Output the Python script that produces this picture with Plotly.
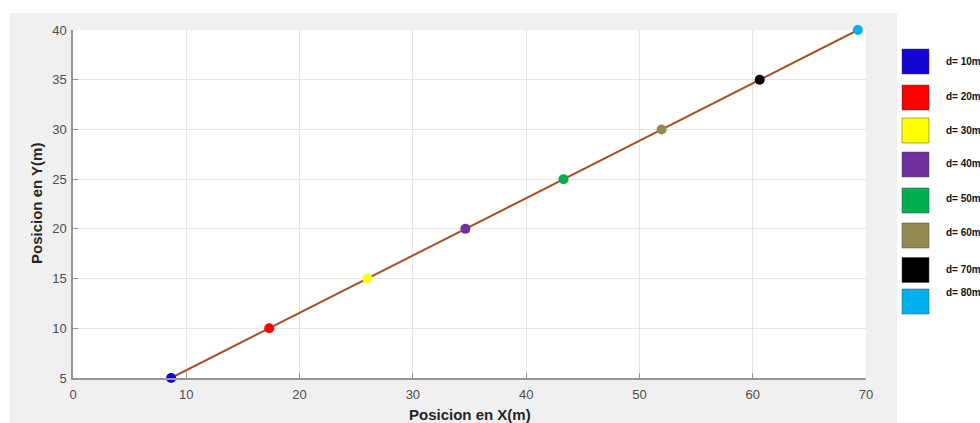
import plotly.graph_objects as go

# Data
labels = ["d= 10m", "d= 20m", "d= 30m", "d= 40m", "d= 50m", "d= 60m", "d= 70m", "d= 80m"]
x_vals = [8.66, 17.32, 25.98, 34.64, 43.30, 51.96, 60.62, 69.28]
y_vals = [5, 10, 15, 20, 25, 30, 35, 40]
colors = ["#1405d6", "#ff0000", "#ffff00", "#7030a0", "#00b050", "#948a54", "#000000", "#00b0f0"]
x_ticks = [0, 10, 20, 30, 40, 50, 60, 70]
y_ticks = [5, 10, 15, 20, 25, 30, 35, 40]

W, H = 980, 423
L, R, T, B = 73, 866, 30, 378

def px(xp):
    return (xp - L) / (R - L)

def py(yp):
    return (B - yp) / (B - T)

fig = go.Figure()
fig.add_trace(go.Scatter(x=x_vals, y=y_vals, mode="lines",
                         line=dict(color="#a84f22", width=2),
                         hoverinfo="skip", showlegend=False, cliponaxis=False))
fig.add_trace(go.Scatter(x=x_vals, y=y_vals, mode="markers",
                         marker=dict(color=colors, size=10, line=dict(width=0)),
                         text=labels, showlegend=False, cliponaxis=False))

shapes = [dict(type="rect", xref="paper", yref="paper", layer="below",
               x0=px(10), x1=px(897), y0=py(423), y1=py(13),
               fillcolor="#f0f0f0", line=dict(width=0)),
          dict(type="rect", xref="paper", yref="paper", layer="below",
               x0=0, x1=1, y0=0, y1=1,
               fillcolor="#ffffff", line=dict(width=0))]
annotations = []
# legend rows (pixel positions)
sq_centers = [61.5, 97.5, 130.5, 164.5, 200.5, 235.5, 270, 301.5]
lab_centers = [61.5, 97, 130, 163, 198, 232, 269, 292]
for i, (c, lab) in enumerate(zip(colors, labels)):
    yc = sq_centers[i]
    shapes.append(dict(type="rect", xref="paper", yref="paper",
                       x0=px(902), x1=px(929), y0=py(yc + 12.5), y1=py(yc - 12.5),
                       fillcolor=c, line=dict(color="rgba(60,60,60,0.45)", width=1)))
    annotations.append(dict(xref="paper", yref="paper", x=px(944), y=py(lab_centers[i]),
                            text="<b>" + lab + "</b>", showarrow=False, xanchor="left", yanchor="middle",
                            font=dict(family="Liberation Sans, Arial", size=10, color="#111111"),
                            ))
# axis titles
annotations.append(dict(xref="paper", yref="paper", x=0.5, y=py(414),
                        text="<b>Posicion en X(m)</b>", showarrow=False,
                        xanchor="center", yanchor="middle",
                        font=dict(family="Liberation Sans, Arial", size=15, color="#262626")))
annotations.append(dict(xref="paper", yref="paper", x=px(36), y=0.5,
                        text="<b>Posicion en Y(m)</b>", showarrow=False, textangle=-90,
                        xanchor="center", yanchor="middle",
                        font=dict(family="Liberation Sans, Arial", size=15, color="#262626")))

axis_common = dict(showgrid=True, gridcolor="#e6e6e6", gridwidth=1,
                   showline=True, linecolor="#969696", linewidth=1.5,
                   ticks="inside", ticklen=5, tickcolor="#969696", tickwidth=1,
                   zeroline=False, fixedrange=True,
                   tickfont=dict(family="Liberation Sans, Arial", size=13, color="#4d4d4d"))

fig.update_layout(
    width=W, height=H,
    margin=dict(l=L, r=W - R, t=T, b=H - B),
    paper_bgcolor="white", plot_bgcolor="white",
    xaxis=dict(range=[0, 70], tickvals=x_ticks, ticklabelstandoff=4, **axis_common),
    yaxis=dict(range=[5, 40], tickvals=y_ticks, ticklabelstandoff=2, **axis_common),
    shapes=shapes, annotations=annotations, showlegend=False,
)
fig.write_html("out.html", config={"displayModeBar": False},
               post_script="document.body.style.margin='0px';document.body.style.overflow='hidden';")
